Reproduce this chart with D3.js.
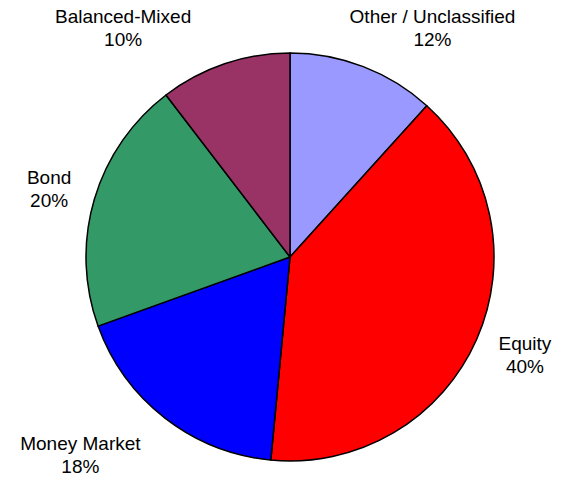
<!DOCTYPE html>
<html>
<head>
<meta charset="utf-8">
<script src="https://cdn.jsdelivr.net/npm/d3@7"></script>
<style>
  body { margin: 0; background: #fff; }
  text { font-family: "Liberation Sans", Arial, sans-serif; font-size: 19px; fill: #000; }
</style>
</head>
<body>
<div id="pie-chart"></div>
<script>
const categories = ["Other / Unclassified", "Equity", "Money Market", "Bond", "Balanced-Mixed"];
const shares = [11.7, 39.8, 18.0, 20.1, 10.4];
const pctLabels = ["12%", "40%", "18%", "20%", "10%"];
const colors = ["#9999FF", "#FF0000", "#0000FF", "#339966", "#993366"];
// label nudges from the slice mid-angle point (excel-style placement)
const labelNudge = [[53, 3], [7, -3], [-57, 1], [-2, 2], [-87, 6]];

const width = 564, height = 477;
const cx = 290, cy = 257, radius = 204;

const data = categories.map((c, i) => ({ name: c, value: shares[i], pct: pctLabels[i], color: colors[i], nudge: labelNudge[i] }));

const svg = d3.select("#pie-chart")
  .append("svg")
  .attr("width", width)
  .attr("height", height)
  .append("g")
  .attr("transform", `translate(${cx},${cy})`);

const pie = d3.pie()
  .value(d => d.value)
  .sort(null);

const arc = d3.arc()
  .innerRadius(0)
  .outerRadius(radius);

const labelArc = d3.arc()
  .innerRadius(radius + 45)
  .outerRadius(radius + 45);

const arcs = pie(data);

svg.selectAll(".slice")
  .data(arcs)
  .enter().append("path")
  .attr("class", "slice")
  .attr("d", arc)
  .attr("fill", d => d.data.color)
  .attr("stroke", "#000")
  .attr("stroke-width", 1.5)
  .attr("stroke-linejoin", "round");

const labels = svg.selectAll(".label")
  .data(arcs)
  .enter().append("text")
  .attr("class", "label")
  .attr("text-anchor", "middle")
  .attr("transform", d => {
    const [x, y] = labelArc.centroid(d);
    return `translate(${x + d.data.nudge[0]},${y + d.data.nudge[1]})`;
  });

labels.append("tspan")
  .attr("x", 0)
  .attr("y", -4.5)
  .text(d => d.data.name);

labels.append("tspan")
  .attr("x", 0)
  .attr("y", 18.5)
  .text(d => d.data.pct);
</script>
</body>
</html>
